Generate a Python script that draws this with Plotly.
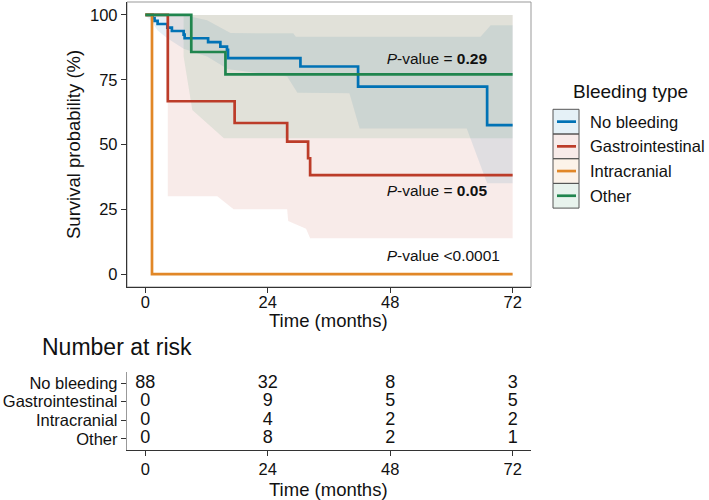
import plotly.graph_objects as go

W, H = 709, 500

# ---------------- data ----------------
groups = ["No bleeding", "Gastrointestinal", "Intracranial", "Other"]
colors = ["#0072B5", "#BC3C29", "#E18727", "#20854E"]
time_ticks = [0, 24, 48, 72]
surv_ticks = [0, 25, 50, 75, 100]

# Kaplan-Meier curves (months, survival %)
nb_time = [0, 1.4, 1.8, 2.4, 4.3, 5.2, 7.5, 7.7, 12.3, 14.7, 16.0, 16.2, 30.4, 41.7, 67.0, 72]
nb_surv = [100, 98.8, 97.7, 96.5, 95.1, 93.8, 92.4, 91.0, 89.5, 87.8, 86.5, 83.3, 80.1, 72.3, 57.5, 57.5]
gi_time = [0, 4.4, 17.5, 27.8, 31.9, 32.3, 72]
gi_surv = [100, 66.7, 58.3, 51.1, 44.7, 38.2, 38.2]
ic_time = [0, 1.3, 72]
ic_surv = [100, 0, 0]
ot_time = [0, 9.0, 15.7, 72]
ot_surv = [100, 85.7, 77.1, 77.1]

# confidence bands
nb_up_t = [0, 7.5, 12.1, 16.7, 29.0, 29.5, 65.7, 67.7, 72]
nb_up = [100, 100, 98, 93, 92.9, 91.6, 91.6, 96, 96]
nb_lo_t = [0, 1.4, 2.4, 4.3, 7.5, 12.1, 16.2, 27.8, 29.8, 40.0, 42.0, 63.0, 67.0, 72]
nb_lo = [100, 97, 94, 91, 87, 84, 79, 76.2, 70, 69.8, 56.2, 56.2, 35, 35]

gi_up_t = [4.4, 72]
gi_up = [100, 100]
gi_lo_t = [4.4, 14.1, 17.3, 27.8, 28.0, 31.5, 32.3, 72]
gi_lo = [30.0, 30.0, 25.0, 25.0, 20.5, 17.5, 13.8, 13.8]

ot_up_t = [0, 72]
ot_up = [100, 100]
ot_lo_t = [0, 7.5, 7.5, 9.2, 15.4, 72]
ot_lo = [100, 100, 84, 63.3, 52.4, 52.4]

# number at risk
risk_nb = [88, 32, 8, 3]
risk_gi = [0, 9, 5, 5]
risk_ic = [0, 4, 2, 2]
risk_ot = [0, 8, 2, 1]

pvals = ["<i>P</i>-value = <b>0.29</b>", "<i>P</i>-value = <b>0.05</b>", "<i>P</i>-value <0.0001"]
pval_x = [47.3, 47.3, 47.3]
pval_y = [82.5, 31.8, 6.7]

FONT = "Liberation Sans, Arial, Helvetica, sans-serif"


def rgba(hexc, a):
    h = hexc.lstrip("#")
    r, g, b = int(h[0:2], 16), int(h[2:4], 16), int(h[4:6], 16)
    return f"rgba({r},{g},{b},{a})"


fig = go.Figure()

bands = [
    (nb_up_t, nb_up, nb_lo_t, nb_lo, colors[0]),
    (gi_up_t, gi_up, gi_lo_t, gi_lo, colors[1]),
    (ot_up_t, ot_up, ot_lo_t, ot_lo, colors[3]),
]
for ut, u, lt, l, c in bands:
    fig.add_trace(go.Scatter(
        x=list(ut) + list(reversed(lt)), y=list(u) + list(reversed(l)),
        fill="toself", fillcolor=rgba(c, 0.1), mode="lines", line=dict(width=0),
        hoverinfo="skip", showlegend=False, xaxis="x", yaxis="y"))

curves = [(nb_time, nb_surv), (gi_time, gi_surv), (ic_time, ic_surv), (ot_time, ot_surv)]
for (t, s), c, g in zip(curves, colors, groups):
    fig.add_trace(go.Scatter(x=t, y=s, mode="lines", line=dict(color=c, width=2.7, shape="hv"),
                             name=g, showlegend=False, xaxis="x", yaxis="y"))

fig.add_trace(go.Scatter(x=pval_x, y=pval_y, mode="text", text=pvals, textposition="middle right",
                         textfont=dict(family=FONT, size=15.5, color="#111"), showlegend=False,
                         hoverinfo="skip", xaxis="x", yaxis="y"))

# risk table
risk_rows = [risk_nb, risk_gi, risk_ic, risk_ot]
row_pos = [4, 3, 2, 1]
for vals, yp in zip(risk_rows, row_pos):
    fig.add_trace(go.Scatter(x=time_ticks, y=[yp] * len(time_ticks), mode="text",
                             text=[str(v) for v in vals], textposition="middle center",
                             textfont=dict(family=FONT, size=18, color="#111"),
                             showlegend=False, hoverinfo="skip", xaxis="x2", yaxis="y2"))

xd = [127 / W, 531 / W]
common_x = dict(range=[-3.6, 75.6], tickvals=time_ticks, ticks="outside", ticklen=5, tickwidth=1.2,
                tickcolor="#333", showline=True, linecolor="#333", linewidth=1.4, showgrid=False,
                zeroline=False, tickfont=dict(family=FONT, size=16.5, color="#111"), domain=xd)

shapes = [dict(type="rect", xref="paper", yref="paper", x0=xd[0], x1=xd[1],
               y0=1 - 287 / H, y1=1 - 2 / H, line=dict(color="#999", width=1), layer="below")]

annotations = [
    dict(text="Survival probability (%)", x=73 / W, y=1 - 145 / H, xref="paper", yref="paper",
         textangle=-90, showarrow=False, font=dict(family=FONT, size=18.5, color="#111"),
         xanchor="center", yanchor="middle"),
    dict(text="Time (months)", x=(xd[0] + xd[1]) / 2, y=1 - 320 / H, xref="paper", yref="paper",
         showarrow=False, font=dict(family=FONT, size=18.5, color="#111"), xanchor="center",
         yanchor="middle"),
    dict(text="Time (months)", x=(xd[0] + xd[1]) / 2, y=1 - 489 / H, xref="paper", yref="paper",
         showarrow=False, font=dict(family=FONT, size=18.5, color="#111"), xanchor="center",
         yanchor="middle"),
    dict(text="Number at risk", x=40 / W, y=1 - 347 / H, xref="paper", yref="paper",
         showarrow=False, font=dict(family=FONT, size=23, color="#111"), xanchor="left",
         yanchor="middle"),
    dict(text="Bleeding type", x=571 / W, y=1 - 92 / H, xref="paper", yref="paper",
         showarrow=False, font=dict(family=FONT, size=19, color="#111"), xanchor="left",
         yanchor="middle"),
]

# manual legend keys
box_tops = [109.3, 134, 158.7, 183.4]
box_h = 24.7
for g, c, top in zip(groups, colors, box_tops):
    shapes.append(dict(type="rect", xref="paper", yref="paper", x0=553 / W, x1=579 / W,
                       y0=1 - (top + box_h) / H, y1=1 - top / H,
                       fillcolor=rgba(c, 0.1), line=dict(color="#555", width=1)))
    ym = 1 - (top + box_h / 2) / H
    shapes.append(dict(type="line", xref="paper", yref="paper", x0=557 / W, x1=576 / W,
                       y0=ym, y1=ym, line=dict(color=c, width=2.7)))
    annotations.append(dict(text=g, x=588 / W, y=ym, xref="paper", yref="paper", showarrow=False,
                            font=dict(family=FONT, size=16.5, color="#111"), xanchor="left",
                            yanchor="middle"))

fig.update_layout(
    width=W, height=H, margin=dict(l=0, r=0, t=0, b=0),
    paper_bgcolor="white", plot_bgcolor="white", showlegend=False,
    font=dict(family=FONT, color="#111"),
    xaxis=dict(anchor="y", ticklabelstandoff=-5, **common_x),
    yaxis=dict(domain=[1 - 287 / H, 1 - 2 / H], range=[-5, 105], tickvals=surv_ticks, ticks="outside",
               ticklen=5, tickwidth=1.2, tickcolor="#333", showline=True, linecolor="#333",
               linewidth=1.4, showgrid=False, zeroline=False, anchor="x",
               tickfont=dict(family=FONT, size=16.5, color="#111")),
    xaxis2=dict(anchor="y2", ticklabelstandoff=-1, **common_x),
    yaxis2=dict(domain=[1 - 450 / H, 1 - 372 / H], range=[0.4, 4.6], tickvals=row_pos, ticktext=groups,
                ticks="outside", ticklen=5, tickwidth=1.2, tickcolor="#333", showline=True,
                linecolor="#999", linewidth=1.4, showgrid=False, zeroline=False, anchor="x2",
                tickfont=dict(family=FONT, size=16.5, color="#111")),
    shapes=shapes, annotations=annotations,
)

fig.write_html("out.html", config={"displayModeBar": False},
               post_script="document.body.style.margin='0';document.body.style.padding='0';")
